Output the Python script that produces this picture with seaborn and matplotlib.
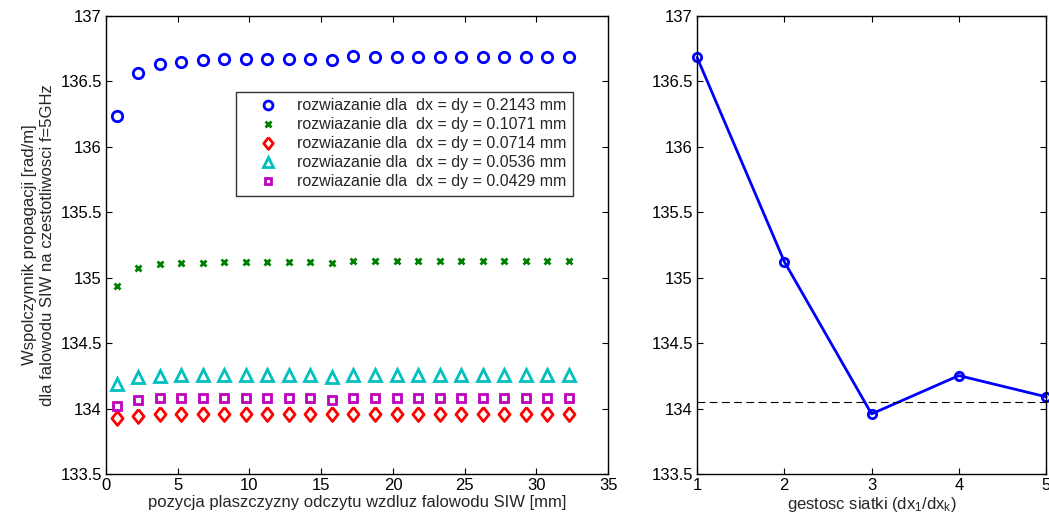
import numpy as np
import pandas as pd
import matplotlib
matplotlib.use("Agg")
import matplotlib.pyplot as plt
import seaborn as sns

# pozycje plaszczyzn odczytu [mm]
pozycja = [0.75, 2.25, 3.75, 5.25, 6.75, 8.25, 9.75, 11.25, 12.75, 14.25, 15.75,
           17.25, 18.75, 20.25, 21.75, 23.25, 24.75, 26.25, 27.75, 29.25, 30.75, 32.25]

beta_02143 = [136.236, 136.567, 136.630, 136.651, 136.664, 136.669, 136.671, 136.671,
              136.671, 136.671, 136.666, 136.694, 136.689, 136.684, 136.684, 136.684,
              136.684, 136.684, 136.684, 136.684, 136.684, 136.684]
beta_01071 = [134.937, 135.075, 135.103, 135.111, 135.115, 135.117, 135.117, 135.117,
              135.117, 135.117, 135.111, 135.126, 135.126, 135.124, 135.124, 135.124,
              135.124, 135.124, 135.124, 135.124, 135.124, 135.124]
beta_00714 = [133.927, 133.947, 133.957, 133.958, 133.958, 133.958, 133.958, 133.958,
              133.958, 133.958, 133.958, 133.959, 133.959, 133.959, 133.959, 133.959,
              133.959, 133.959, 133.959, 133.959, 133.959, 133.959]
beta_00536 = [134.186, 134.244, 134.252, 134.254, 134.257, 134.257, 134.257, 134.257,
              134.257, 134.257, 134.244, 134.260, 134.260, 134.259, 134.259, 134.259,
              134.259, 134.259, 134.259, 134.259, 134.259, 134.259]
beta_00429 = [134.021, 134.069, 134.077, 134.079, 134.079, 134.079, 134.079, 134.079,
              134.079, 134.079, 134.066, 134.082, 134.082, 134.082, 134.082, 134.082,
              134.082, 134.082, 134.082, 134.082, 134.082, 134.082]

dx_labels = ["0.2143", "0.1071", "0.0714", "0.0536", "0.0429"]

# zbieznosc wzgledem gestosci siatki
gestosc = [1, 2, 3, 4, 5]
beta_zbiezn = [136.684, 135.123, 133.959, 134.252, 134.090]
beta_ekstrap = 134.05

serie = [beta_02143, beta_01071, beta_00714, beta_00536, beta_00429]
kolory = [(0, 0, 1), (0, 0.5, 0), (1, 0, 0), (0, 0.75, 0.75), (0.75, 0, 0.75)]
romb = [(0, 1), (0.8, 0), (0, -1), (-0.8, 0), (0, 1)]
markery = ["o", "x", romb, "^", "s"]
rozmiary = [7.5, 4.5, 10, 8, 5.5]

sns.set_style("ticks")
plt.rcParams["font.family"] = ["Liberation Sans", "DejaVu Sans"]
plt.rcParams["mathtext.default"] = "regular"
plt.rcParams["xtick.direction"] = "in"
plt.rcParams["ytick.direction"] = "in"
plt.rcParams["xtick.top"] = True
plt.rcParams["ytick.right"] = True

fig = plt.figure(figsize=(10.49, 5.23), dpi=100)
ax1 = fig.add_axes([0.1011, 0.0937, 0.4786, 0.8757])
ax2 = fig.add_axes([0.6645, 0.0937, 0.3327, 0.8757])

for vals, c, m, s, lab in zip(serie, kolory, markery, rozmiary, dx_labels):
    df = pd.DataFrame({"x": pozycja, "y": vals})
    sns.lineplot(data=df, x="x", y="y", ax=ax1, color=c, marker=m, linestyle="",
                 markersize=s, markerfacecolor="none", markeredgecolor=c,
                 markeredgewidth=2, label="rozwiazanie dla  dx = dy = " + lab + " mm")

ax1.set_xlim(0, 35)
ax1.set_ylim(133.5, 137)
ax1.set_xticks(np.arange(0, 36, 5))
ax1.set_yticks(np.arange(133.5, 137.01, 0.5))
ax1.set_yticklabels(["133.5", "134", "134.5", "135", "135.5", "136", "136.5", "137"])
ax1.set_xlabel("pozycja plaszczyzny odczytu wzdluz falowodu SIW [mm]", fontsize=12, labelpad=1)
ax1.set_ylabel("Wspolczynnik propagacji [rad/m]\ndla falowodu SIW na czestotliwosci f=5GHz",
               fontsize=12, labelpad=4)
leg = ax1.legend(loc="upper right", bbox_to_anchor=(0.93, 0.834), borderaxespad=0,
                 fontsize=11.5, frameon=True, fancybox=False, edgecolor="k",
                 labelspacing=0.25, handlelength=3.2, handletextpad=0.25, borderpad=0.4,
                 markerscale=0.85)
leg.get_frame().set_linewidth(1.0)

df2 = pd.DataFrame({"g": gestosc, "b": beta_zbiezn})
sns.lineplot(data=df2, x="g", y="b", ax=ax2, color="b", marker="o", markersize=6,
             markerfacecolor="none", markeredgecolor="b", markeredgewidth=2, linewidth=2)
ax2.axhline(beta_ekstrap, color="k", linestyle=(0, (7, 4)), linewidth=0.8)
ax2.set_xlim(1, 5)
ax2.set_ylim(133.5, 137)
ax2.set_xticks(gestosc)
ax2.set_yticks(np.arange(133.5, 137.01, 0.5))
ax2.set_yticklabels(["133.5", "134", "134.5", "135", "135.5", "136", "136.5", "137"])
ax2.set_xlabel("gestosc siatki (dx$_1$/dx$_k$)", fontsize=12, labelpad=1)
ax2.set_ylabel("")

for ax in (ax1, ax2):
    ax.tick_params(labelsize=12, length=4, width=0.8, colors="k", pad=3)
    for sp in ax.spines.values():
        sp.set_visible(True)
        sp.set_linewidth(1.0)
        sp.set_color("k")
    for m in ax.lines:
        m.set_clip_on(False)

fig.savefig("out.png", dpi=100)
